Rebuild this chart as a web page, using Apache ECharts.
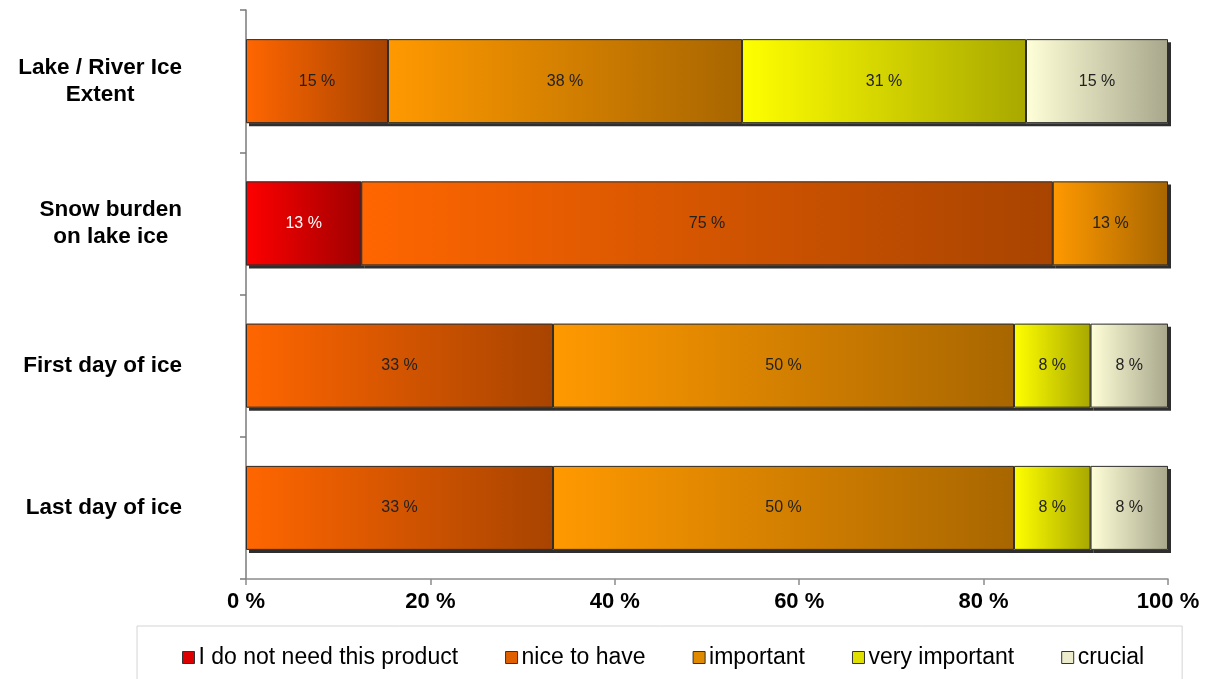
<!DOCTYPE html>
<html>
<head>
<meta charset="utf-8">
<script src="https://cdn.jsdelivr.net/npm/echarts@6/dist/echarts.min.js"></script>
<style>
  html, body { margin: 0; padding: 0; background: #ffffff; }
  #chart { width: 1214px; height: 679px; }
</style>
</head>
<body>
<div id="chart"></div>
<script>
// Survey answers per product, share of respondents (%)
const categories = ['Lake / River Ice\nExtent', 'Snow burden\non lake ice', 'First day of ice', 'Last day of ice'];
const seriesNames = ['I do not need this product', 'nice to have', 'important', 'very important', 'crucial'];
const notNeeded     = [null, 12.5, null, null];
const niceToHave    = [15.4, 75.0, 33.3, 33.3];
const important     = [38.4, 12.5, 50.0, 50.0];
const veryImportant = [30.8, null, 8.3, 8.3];
const crucial       = [15.4, null, 8.4, 8.4];
const valueTicks = [0, 20, 40, 60, 80, 100];

const seriesValues = [notNeeded, niceToHave, important, veryImportant, crucial];

// light -> dark horizontal gradient for each answer
const gradientStops = [
  ['#ff0000', '#a00000'],
  ['#ff6600', '#a84400'],
  ['#ff9900', '#a86600'],
  ['#ffff00', '#a8a800'],
  ['#ffffd8', '#a8a78c']
];
const legendColors = ['#dd0000', '#e06000', '#e08a00', '#e0e000', '#ececcc'];
const labelColors = ['#ffffff', '#222222', '#222222', '#222222', '#222222'];
const FONT = 'Liberation Sans, Arial, sans-serif';

const chart = echarts.init(document.getElementById('chart'), null, { renderer: 'canvas' });

// filled segments carry the drop shadow (no stroke, so the shadow stays outside)
const fillSeries = seriesNames.map((name, i) => ({
  name: name,
  type: 'bar',
  stack: 'fill',
  barWidth: 84,
  barGap: '-100%',
  data: seriesValues[i],
  itemStyle: {
    color: new echarts.graphic.LinearGradient(0, 0, 1, 0, [
      { offset: 0, color: gradientStops[i][0] },
      { offset: 1, color: gradientStops[i][1] }
    ]),
    borderWidth: 0,
    shadowColor: 'rgba(0,0,0,0.82)',
    shadowBlur: 0,
    shadowOffsetX: 3,
    shadowOffsetY: 3
  },
  label: {
    show: true,
    position: 'inside',
    fontFamily: FONT,
    fontSize: 16,
    color: labelColors[i],
    formatter: p => (p.value == null ? '' : Math.round(p.value) + ' %')
  },
  emphasis: { disabled: true }
}));

// thin dark outline drawn over each segment
const outlineSeries = seriesNames.map((name, i) => ({
  name: name + ' outline',
  type: 'bar',
  stack: 'outline',
  barWidth: 84,
  barGap: '-100%',
  data: seriesValues[i],
  itemStyle: { color: 'rgba(0,0,0,0)', borderColor: '#2e2e2e', borderWidth: 1 },
  label: { show: false },
  emphasis: { disabled: true },
  silent: true
}));

chart.setOption({
  animation: false,
  backgroundColor: '#ffffff',
  grid: { left: 246, right: 46, top: 10, bottom: 100, containLabel: false },
  xAxis: {
    type: 'value',
    min: valueTicks[0],
    max: valueTicks[valueTicks.length - 1],
    interval: valueTicks[1] - valueTicks[0],
    splitLine: { show: false },
    axisLine: { show: true, lineStyle: { color: '#8c8c8c', width: 1.5 } },
    axisTick: { show: true, length: 6, lineStyle: { color: '#8c8c8c', width: 1.5 } },
    axisLabel: {
      margin: 12,
      fontFamily: FONT,
      fontWeight: 'bold',
      fontSize: 22,
      color: '#000000',
      formatter: v => v + ' %'
    }
  },
  yAxis: {
    type: 'category',
    inverse: true,
    data: categories,
    axisLine: { show: true, lineStyle: { color: '#7a7a7a', width: 1.5 } },
    axisTick: { show: true, length: 6, lineStyle: { color: '#7a7a7a', width: 1.5 } },
    axisLabel: {
      margin: 64,
      align: 'right',
      formatter: v => v.split('\n').map(line => '{c|' + line + '}').join('\n'),
      rich: {
        c: {
          align: 'center',
          fontFamily: FONT,
          fontWeight: 'bold',
          fontSize: 22.5,
          lineHeight: 27,
          color: '#000000'
        }
      }
    }
  },
  legend: {
    left: 137,
    top: 626,
    orient: 'horizontal',
    padding: [20, 38, 40, 45],
    borderColor: '#d4d4d4',
    borderWidth: 1,
    itemWidth: 12,
    itemHeight: 12,
    itemGap: 47,
    icon: 'rect',
    selectedMode: false,
    textStyle: {
      fontFamily: FONT,
      fontSize: 23,
      color: '#000000',
      padding: [0, 0, 0, -1]
    },
    data: seriesNames.map((n, i) => ({
      name: n,
      itemStyle: { color: legendColors[i], borderColor: '#333333', borderWidth: 1, shadowBlur: 0, shadowOffsetX: 0, shadowOffsetY: 0 }
    }))
  },
  series: fillSeries.concat(outlineSeries)
});
</script>
</body>
</html>
